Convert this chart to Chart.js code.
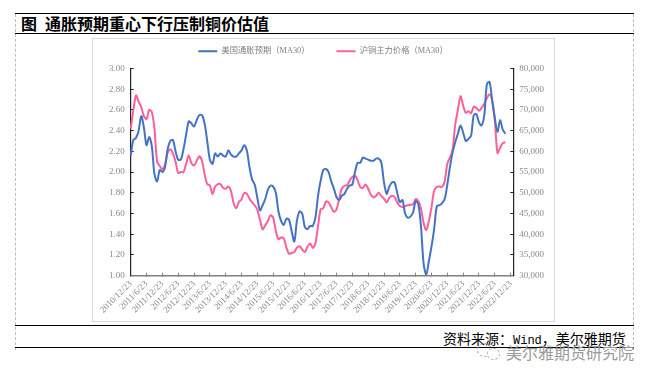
<!DOCTYPE html>
<html><head><meta charset="utf-8">
<script src="https://cdn.jsdelivr.net/npm/chart.js@4"></script>
<style>
html,body{margin:0;padding:0;background:#fff;width:654px;height:379px;overflow:hidden}
.a{position:absolute}
.t{font-family:"Noto Sans CJK SC",sans-serif;color:#000;white-space:nowrap}
</style></head><body>
<div class="a" style="left:15px;top:14px;height:336px;border-left:1px dashed #bdbdbd"></div>
<div class="a" style="left:633px;top:14px;height:336px;border-left:1px dashed #bdbdbd"></div>
<div class="a" style="left:15px;top:13px;width:619px;height:1px;background:#000"></div>
<div class="a" style="left:15px;top:33px;width:619px;height:1px;background:#000"></div>
<div class="a" style="left:15px;top:325px;width:619px;height:1px;background:#000"></div>
<div class="a" style="left:15px;top:347px;width:619px;height:1px;background:#000"></div>
<div class="a t" style="left:21px;top:13px;font-size:16px;line-height:20px;font-weight:700">图</div>
<div class="a t" style="left:45px;top:13px;font-size:16px;line-height:20px;font-weight:700">通胀预期重心下行压制铜价估值</div>
<div class="a" style="left:92px;top:38px;width:461px;height:282px;border:1px solid #d9d9d9;box-sizing:content-box"></div>
<div class="a" style="left:92px;top:38px;width:462px;height:283px"><canvas id="c" width="462" height="283"></canvas></div>
<div class="a t" style="left:443px;top:328px;font-size:14px;line-height:20px">资料来源：<span style="font-family:'Liberation Mono';font-size:12px">Wind</span>，美尔雅期货</div>
<div class="a" style="left:477px;top:343px;width:13px;height:12px;border:1px dashed #aaa;border-radius:50%"></div>
<div class="a" style="left:487px;top:348px;width:11px;height:10px;border:1px dashed #aaa;border-radius:50%;background:#fff"></div>
<div class="a t" style="left:506px;top:342px;font-size:16px;line-height:20px;color:#9a9a9a">美尔雅期货研究院</div>
<script>
const tickLabels = ["2010/12/23","2011/6/23","2011/12/23","2012/6/23","2012/12/23","2013/6/23","2013/12/23","2014/6/23","2014/12/23","2015/6/23","2015/12/23","2016/6/23","2016/12/23","2017/6/23","2017/12/23","2018/6/23","2018/12/23","2019/6/23","2019/12/23","2020/6/23","2020/12/23","2021/6/23","2021/12/23","2022/6/23","2022/12/23"];
const seriesNames = ["美国通胀预期（MA30）","沪铜主力价格（MA30）"];
const inflation = [2.16,2.31,2.33,2.40,2.54,2.43,2.26,2.34,2.25,1.98,1.91,2.02,2.00,2.05,2.22,2.30,2.31,2.20,2.12,2.12,2.22,2.36,2.49,2.47,2.44,2.50,2.55,2.55,2.47,2.30,2.12,2.08,2.18,2.15,2.18,2.16,2.15,2.21,2.17,2.15,2.15,2.18,2.21,2.26,2.21,2.05,1.93,1.88,1.75,1.63,1.68,1.74,1.83,1.87,1.86,1.80,1.62,1.53,1.49,1.55,1.54,1.43,1.33,1.53,1.62,1.60,1.47,1.45,1.48,1.48,1.56,1.77,1.92,2.02,2.03,2.00,1.91,1.84,1.76,1.73,1.77,1.79,1.84,1.87,1.88,2.00,2.09,2.09,2.14,2.13,2.12,2.11,2.11,2.13,2.13,2.09,1.90,1.79,1.86,1.90,1.90,1.80,1.71,1.73,1.60,1.56,1.57,1.61,1.72,1.69,1.48,1.12,1.01,1.14,1.28,1.45,1.67,1.68,1.70,1.74,1.88,2.05,2.19,2.29,2.37,2.45,2.38,2.30,2.32,2.35,2.55,2.56,2.48,2.45,2.55,2.85,2.87,2.69,2.52,2.39,2.50,2.41,2.37];
const copper = [65500,69900,73500,72000,70700,68500,67800,70000,69500,65500,57500,56500,55700,56800,59700,60500,59500,57500,54800,55000,55000,57000,59000,57200,56600,57700,58800,57800,54500,52100,51800,49700,51500,52100,52100,51200,51000,51500,50500,47500,46300,47800,48400,50000,49800,48600,47700,47000,45900,43500,41200,42200,43200,44600,44000,40800,38800,39200,39000,36800,35300,35500,35700,36800,37100,36300,35700,37000,37800,36700,37800,42000,46000,46300,47900,47700,46500,45400,46000,48500,51000,51700,51800,53000,53800,54200,53000,51400,51200,52000,51000,49600,48900,49300,50000,49200,48600,47700,48800,49300,49000,47700,46800,46600,46800,47000,47100,47200,48500,48000,46200,42800,41000,43200,46500,50500,51400,51500,51400,52800,57000,58500,60500,66500,70000,73300,71000,69300,69700,69200,70800,70500,69800,70500,71500,72900,73800,72300,67500,59600,60800,62000,62200];

const MONTHS_PER_TICK = 6;
const categories = [];
tickLabels.forEach((lab, i) => {
  categories.push(lab);
  if (i < tickLabels.length - 1) for (let k = 1; k < MONTHS_PER_TICK; k++) categories.push("");
});
categories.push(""); // axis runs a little past the last tick

const serif = '"Liberation Serif","Noto Sans CJK SC",serif';
const grey = "#8a8a8a";
const legendTweak = {
  id: "legendTweak",
  beforeLayout(chart) {
    const l = chart.legend;
    if (l._tw) return;
    l._tw = true;
    const f = l.fit, d = l._draw;
    l.fit = function () { f.call(this); this.height = 30.5; };
    l._draw = function () {
      this.ctx.save(); this.ctx.translate(0, -18); d.call(this); this.ctx.restore();
    };
  }
};
new Chart(document.getElementById("c"), {
  type: "line",
  data: {
    labels: categories,
    datasets: [
      {label: seriesNames[0], data: inflation, yAxisID: "y", borderColor: "#4472C4", backgroundColor: "#4472C4", borderWidth: 2, pointRadius: 0, tension: 0.3, pointStyle: "line"},
      {label: seriesNames[1], data: copper, yAxisID: "y2", borderColor: "#FF5F98", backgroundColor: "#FF5F98", borderWidth: 2, pointRadius: 0, tension: 0.3, pointStyle: "line"}
    ]
  },
  plugins: [legendTweak],
  options: {
    responsive: false, animation: false,
    layout: {padding: 0},
    plugins: {
      tooltip: {enabled: false},
      legend: {display: true, position: "top", labels: {usePointStyle: true, pointStyleWidth: 19, padding: 27, color: "#7f7f7f", font: {family: serif, size: 8.3}}}
    },
    scales: {
      x: {
        type: "category",
        offset: false,
        afterBuildTicks(s) { s.ticks = s.ticks.filter(t => t.value % MONTHS_PER_TICK === 0 && t.value < categories.length - 1); },
        afterFit(s) { s.height = 45.3; },
        grid: {drawOnChartArea: false, drawTicks: true, tickLength: -3, color: "#808080"},
        border: {display: true, color: "#808080", width: 1.5},
        ticks: {autoSkip: false, maxRotation: 45, minRotation: 45, padding: 6, color: grey, font: {family: serif, size: 9},
          callback(v) { return this.getLabelForValue(v); }}
      },
      y: {
        position: "left", min: 1, max: 3,
        afterFit(s) { s.width = 38.7; },
        grid: {drawOnChartArea: false, tickLength: -3, color: "#222"},
        border: {display: true, color: "#222", width: 1.2},
        ticks: {stepSize: 0.2, padding: 9, color: grey, font: {family: serif, size: 9}, callback: v => v.toFixed(2)}
      },
      y2: {
        position: "right", min: 30000, max: 80000,
        afterFit(s) { s.width = 40.7; },
        grid: {drawOnChartArea: false, tickLength: -3, color: "#222"},
        border: {display: true, color: "#222", width: 1.2},
        ticks: {stepSize: 5000, padding: 9, color: grey, font: {family: serif, size: 9},
          callback: v => String(v).replace(/(\d+)(\d{3})$/, "$1,$2")}
      }
    }
  }
});
</script>
</body></html>
